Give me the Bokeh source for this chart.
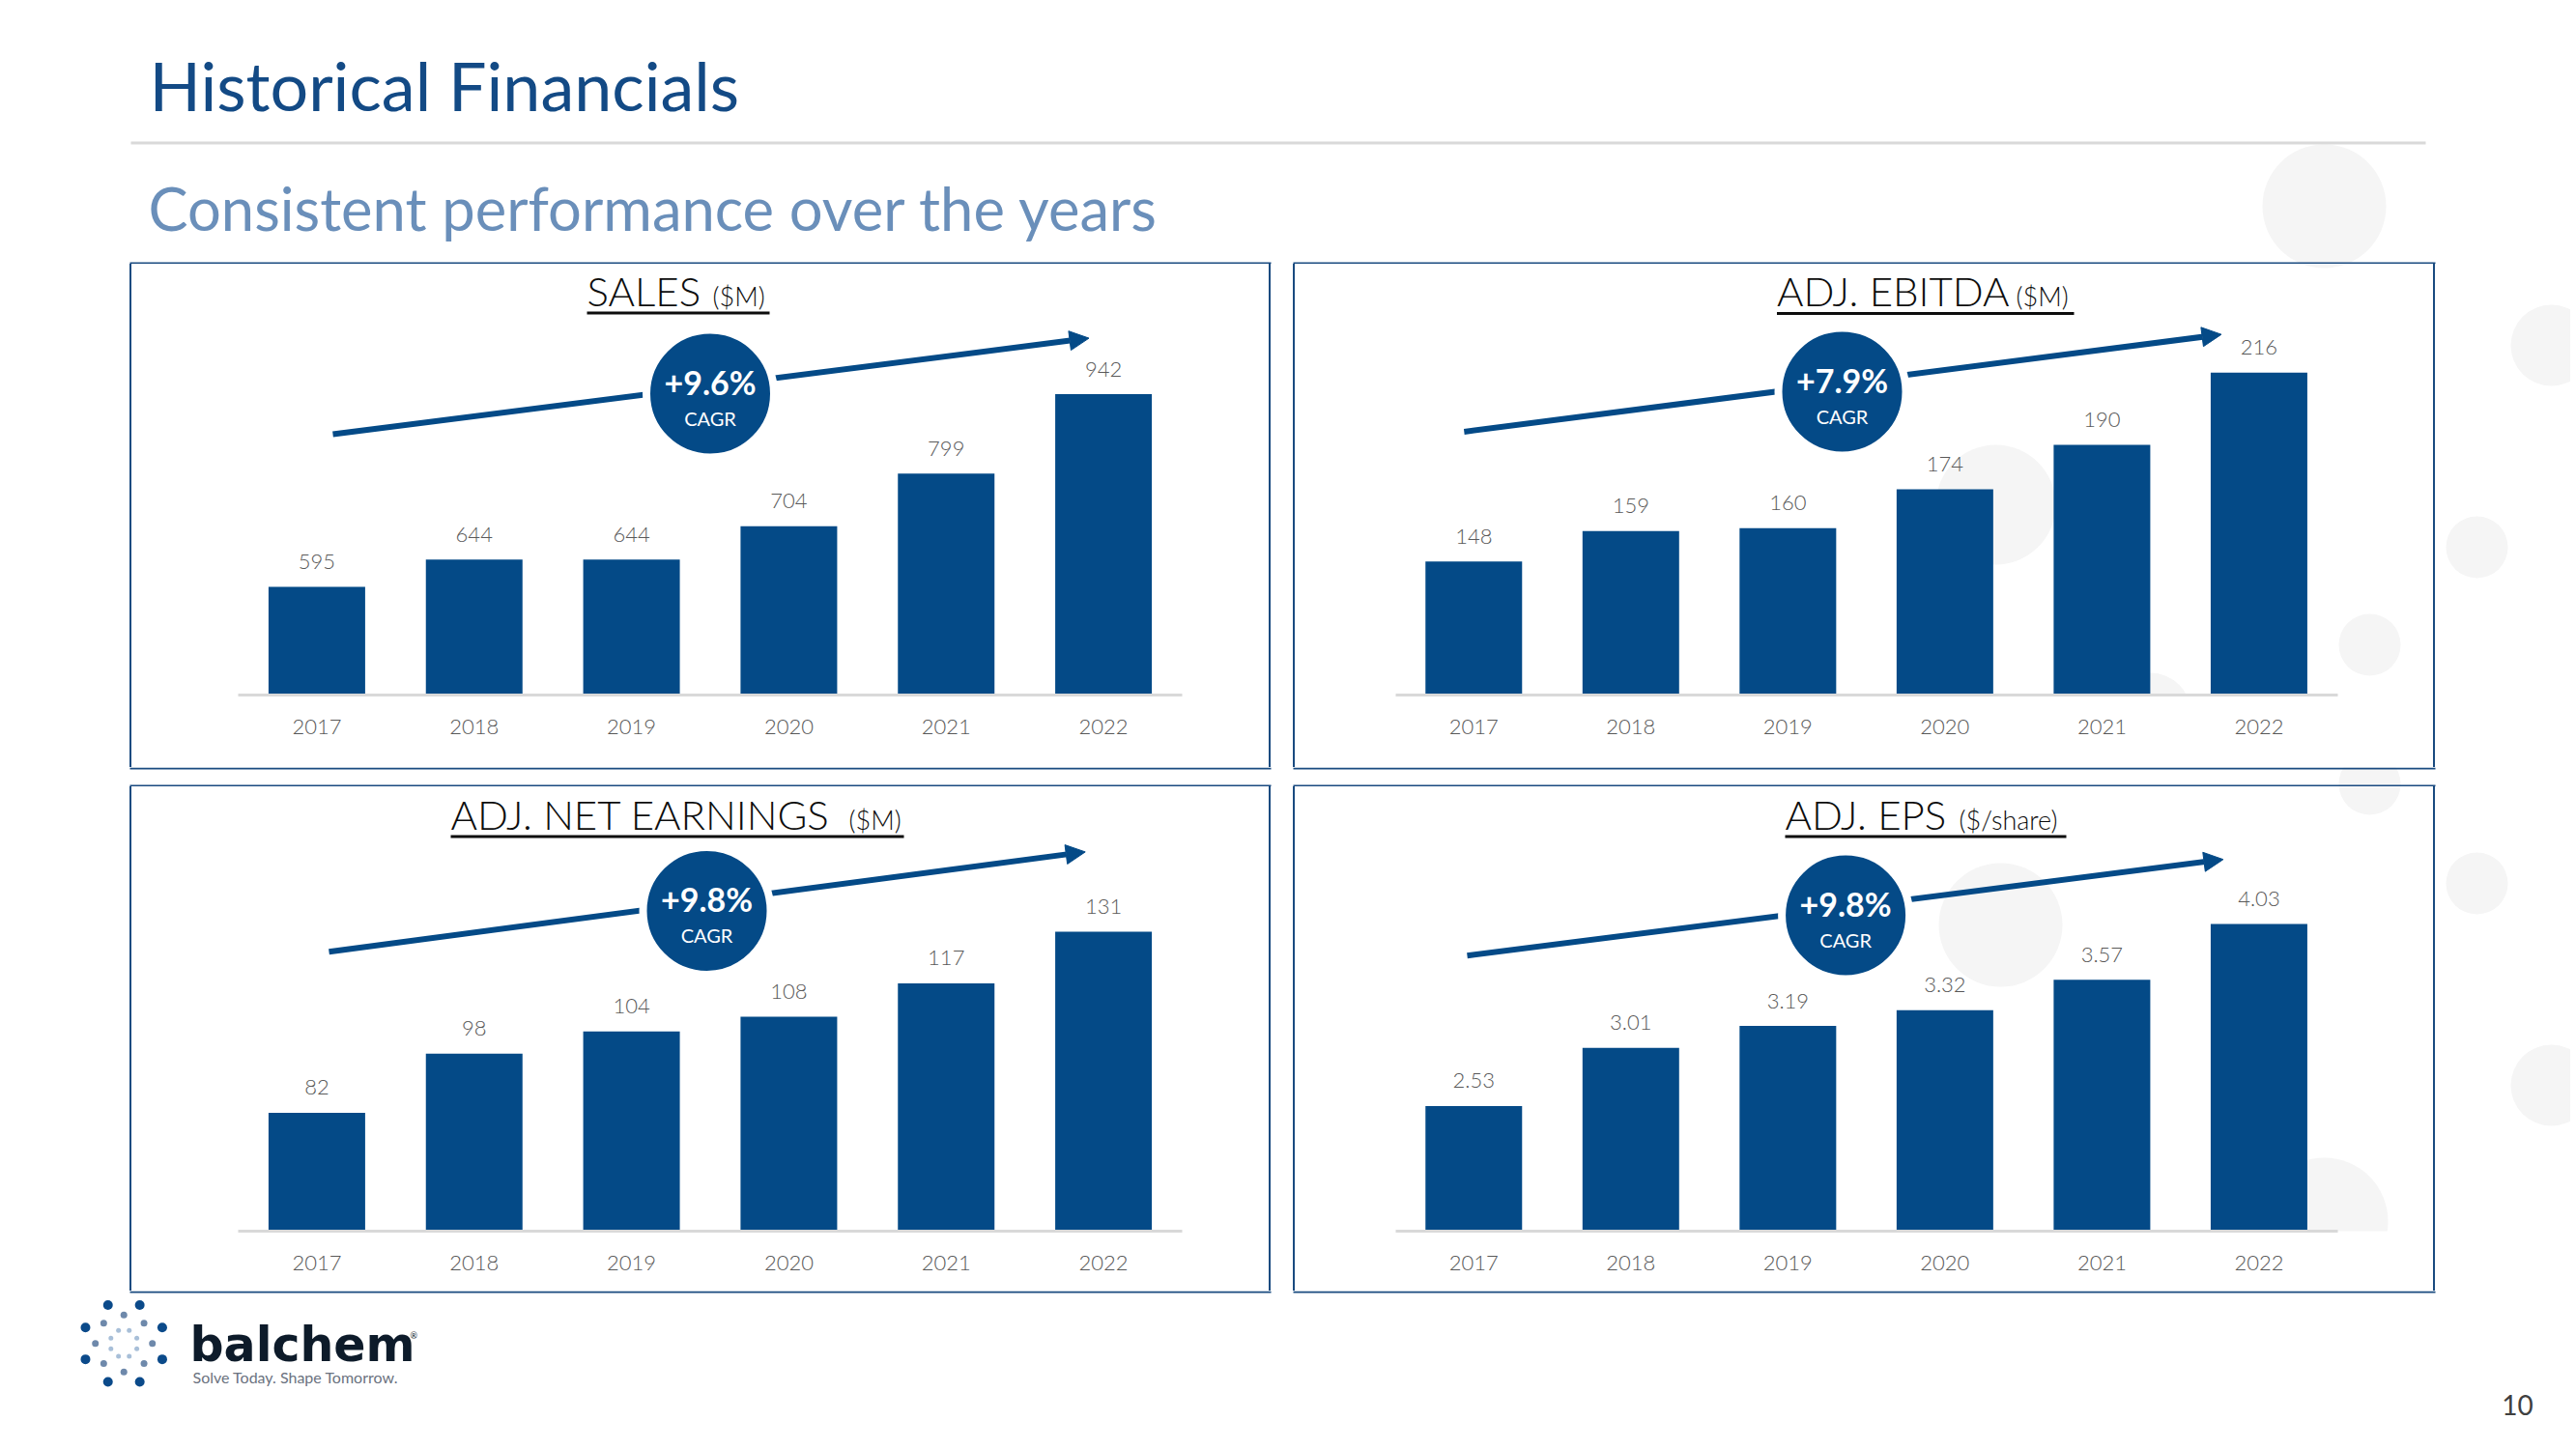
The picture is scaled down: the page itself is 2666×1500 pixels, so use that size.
import numpy as np
from bokeh.plotting import figure
from bokeh.models import Range1d, FixedTicker, Arrow, NormalHead, Div
from bokeh.layouts import row, column
from bokeh.core.properties import value
from bokeh.embed import file_html
from bokeh.resources import INLINE

# ---------------- data ----------------
years = ["2017", "2018", "2019", "2020", "2021", "2022"]
sales = [595, 644, 644, 704, 799, 942]
adj_ebitda = [148, 159, 160, 174, 190, 216]
adj_net_earnings = [82, 98, 104, 108, 117, 131]
adj_eps = [2.53, 3.01, 3.19, 3.32, 3.57, 4.03]

chart_titles = ["SALES", "ADJ. EBITDA", "ADJ. NET EARNINGS", "ADJ. EPS"]
chart_units = ["($M)", "($M)", "($M)", "($/share)"]
cagr_values = ["+9.6%", "+7.9%", "+9.8%", "+9.8%"]
axis_starts = [400, 100, 50, 1.5]
label_formats = ["{:.0f}", "{:.0f}", "{:.0f}", "{:.2f}"]

page_title = "Historical Financials"
page_subtitle = "Consistent performance over the years"
page_number = "10"
logo_name = "balchem"
logo_tagline = "Solve Today. Shape Tomorrow."

# ---------------- style / layout ----------------
BLUE = "#044A87"
TITLE_BLUE = "#134A85"
SUB_BLUE = "#6A8FBA"
BORDER = "#1A4B80"
GREY_TXT = "#595959"
DECO = "#F5F5F5"
LIGHT_NAME = "Lato Light, Lato"
LIGHT = value(LIGHT_NAME)
LATO = value("Lato")
BW = 2  # panel border width

# decorative background circles (screen px: cx, cy, r)
deco_circles = [(2405, 213, 64), (2640, 357, 42), (2563, 566, 32), (2452, 667, 32),
                (2452, 811, 32), (2563, 914, 32), (2640, 1123, 42), (2405, 1264, 66),
                (2065, 522, 62), (2225, 738, 42), (2070, 957, 64)]

# geometry of each panel (screen px): outer box, axis extent, baseline, value units per px
panels = [
    dict(box=(134, 271, 1315, 796), axis=(246, 1223), base=719, upp=1.74,
         title=(607, 737, 796, 315.5), circ=(734.5, 407), arrow=(344, 449, 1126.5, 349.6)),
    dict(box=(1338, 271, 2520, 796), axis=(1443.5, 2418.7), base=719, upp=0.3475,
         title=(1838.5, 2086, 2146, 316), circ=(1906, 405), arrow=(1514.8, 446.4, 2298.5, 345.7)),
    dict(box=(134, 812, 1315, 1338), axis=(246, 1223), base=1274, upp=0.2612,
         title=(466, 878, 935, 857.5), circ=(731, 942.4), arrow=(340, 984.7, 1122.7, 881.4)),
    dict(box=(1338, 812, 2520, 1338), axis=(1443.5, 2418.7), base=1274, upp=0.007953,
         title=(1847, 2027, 2138, 857.5), circ=(1909.6, 947), arrow=(1518, 988.8, 2300.4, 889.2)),
]
series = [sales, adj_ebitda, adj_net_earnings, adj_eps]


def mid_y(baseline, size):
    # vertical centre of capitals for a given alphabetic baseline and font size
    return baseline - 0.36 * size


def bg_fig(x0, y0, x1, y1, base=None):
    # plain strip in page coordinates; if base is given, its frame ends at base
    # (same bottom border as the neighbouring chart panels)
    yb = y1 if base is None else base
    p = figure(width=x1 - x0, height=y1 - y0, x_range=Range1d(x0, x1), y_range=Range1d(yb, y0),
               x_axis_type=None, y_axis_type=None, toolbar_location=None,
               output_backend="svg", min_border=0, min_border_bottom=y1 - yb,
               outline_line_color=None,
               background_fill_color="white", border_fill_color="white")
    p.scatter(x=[c[0] for c in deco_circles], y=[c[1] for c in deco_circles],
              size=[2 * c[2] for c in deco_circles], marker="circle",
              fill_color=DECO, line_color=None)
    # horizontal panel borders (the parts that fall in this strip)
    L, R, T, B = [], [], [], []
    for g in panels:
        bx0, by0, bx1, by1 = g["box"]
        for t, b in [(by0, by0 + BW), (by1 - BW, by1)]:
            L.append(bx0); R.append(bx1); T.append(t); B.append(b)
    p.quad(left=L, right=R, top=T, bottom=B, fill_color=BORDER, line_color=None)
    return p


def vline(h):
    return Div(text="", width=BW, height=h, margin=0,
               styles={"background-color": BORDER, "margin": "0", "padding": "0"})


def panel_fig(i):
    g = panels[i]
    vals = series[i]
    bx0, by0, bx1, by1 = g["box"]
    cx0, cy0, cx1, cy1 = bx0 + BW, by0 + BW, bx1 - BW, by1 - BW
    al, ar = g["axis"]
    base, upp = g["base"], g["upp"]
    n = len(years)
    cat_w = (ar - al) / n
    y0 = axis_starts[i]

    def xd(X):
        return 0.5 + (X - al) / cat_w

    def yd(Y):
        return y0 + (base - Y) * upp

    p = figure(width=cx1 - cx0, height=cy1 - cy0,
               x_range=Range1d(xd(cx0), xd(cx1)), y_range=Range1d(y0, yd(cy0)),
               y_axis_type=None, toolbar_location=None, output_backend="svg",
               min_border_left=0, min_border_right=0, min_border_top=0,
               min_border_bottom=cy1 - base, outline_line_color=None,
               background_fill_color="white", border_fill_color="white")
    p.grid.visible = False

    # faint background circles
    p.scatter(x=[xd(c[0]) for c in deco_circles], y=[yd(c[1]) for c in deco_circles],
              size=[2 * c[2] for c in deco_circles], marker="circle",
              fill_color=DECO, line_color=None)

    xs = [k + 1 for k in range(n)]
    p.vbar(x=xs, top=vals, bottom=y0, width=100 / cat_w, fill_color=BLUE, line_color=None)
    p.text(x=xs, y=vals, text=[label_formats[i].format(v) for v in vals], y_offset=-26,
           text_align="center", text_baseline="middle", text_font=LIGHT,
           text_font_size="22px", text_color=GREY_TXT)

    ax = p.xaxis[0]
    ax.ticker = FixedTicker(ticks=xs)
    ax.major_label_overrides = {x: y for x, y in zip(xs, years)}
    ax.bounds = (0.5, n + 0.5)
    ax.axis_line_color = "#D9D9D9"
    ax.axis_line_width = 3
    ax.major_tick_line_color = None
    ax.minor_tick_line_color = None
    ax.major_label_standoff = 19
    ax.major_label_text_font = LIGHT_NAME
    ax.major_label_text_font_size = "22px"
    ax.major_label_text_color = GREY_TXT

    # title with unit and underline
    tx0, tx1, tx2, tb = g["title"]
    p.text(x=[xd(tx0)], y=[yd(mid_y(tb, 42))], text=[chart_titles[i]], text_align="left",
           text_baseline="middle", text_font=LIGHT, text_font_size="42px",
           text_color="#0D0D0D")
    p.text(x=[xd(tx1)], y=[yd(mid_y(tb, 27))], text=[chart_units[i]], text_align="left",
           text_baseline="middle", text_font=LIGHT, text_font_size="27px",
           text_color="#0D0D0D")
    p.segment(x0=[xd(tx0)], y0=[yd(tb + 8)], x1=[xd(tx2)], y1=[yd(tb + 8)],
              line_color="#0D0D0D", line_width=3)

    # growth arrow
    sx, sy, ex, ey = g["arrow"]
    p.add_layout(Arrow(x_start=xd(sx), y_start=yd(sy), x_end=xd(ex), y_end=yd(ey),
                       line_color=BLUE, line_width=6,
                       end=NormalHead(size=20, fill_color=BLUE, line_color=BLUE)))

    # CAGR badge
    cx, cy = g["circ"]
    p.scatter(x=[xd(cx)], y=[yd(cy)], size=132, marker="circle", fill_color=BLUE,
              line_color="white", line_width=8, level="overlay")
    p.text(x=[xd(cx)], y=[yd(cy - 12.5)], text=[cagr_values[i]], text_align="center",
           text_baseline="middle", text_font=LATO, text_font_style="bold",
           text_font_size="34px", text_color="white", level="overlay")
    p.text(x=[xd(cx)], y=[yd(cy + 25)], text=["CAGR"], text_align="center",
           text_baseline="middle", text_font=LATO, text_font_size="20px",
           text_color="white", level="overlay")
    return p


# header
hdr = bg_fig(0, 0, 2660, 273)
hdr.text(x=[154], y=[mid_y(113, 70)], text=[page_title], text_font=LATO, text_font_size="70px",
         text_color=TITLE_BLUE, text_baseline="middle")
hdr.segment(x0=[135], y0=[147.5], x1=[2510], y1=[147.5], line_color="#D9D9D9", line_width=3)
hdr.text(x=[153], y=[mid_y(237, 61.5)], text=[page_subtitle], text_font=LATO,
         text_font_size="61.5px", text_color=SUB_BLUE, text_baseline="middle")

t0, t1 = 273, 794
row1 = row(bg_fig(0, t0, 134, t1, base=719), vline(t1 - t0), panel_fig(0), vline(t1 - t0),
           bg_fig(1315, t0, 1338, t1, base=719), vline(t1 - t0), panel_fig(1), vline(t1 - t0),
           bg_fig(2520, t0, 2660, t1, base=719))
mid = bg_fig(0, 794, 2660, 814)
b0, b1 = 814, 1336
row2 = row(bg_fig(0, b0, 134, b1, base=1274), vline(b1 - b0), panel_fig(2), vline(b1 - b0),
           bg_fig(1315, b0, 1338, b1, base=1274), vline(b1 - b0), panel_fig(3), vline(b1 - b0),
           bg_fig(2520, b0, 2660, b1, base=1274))

# footer with logo and page number
ftr = bg_fig(0, 1336, 2660, 1496)
lcx, lcy = 127.7, 1390.2
for rad, start, size, col in [(43, 22.5, 10, "#0B4A8A"), (29.5, 0.0, 7, "#6E89AB"),
                              (14.5, 22.5, 5, "#A8BFD8")]:
    ang = np.deg2rad(start + 45 * np.arange(8))
    ftr.scatter(x=lcx + rad * np.cos(ang), y=lcy - rad * np.sin(ang), size=size,
                marker="circle", fill_color=col, line_color=None)
ftr.text(x=[196], y=[mid_y(1410, 49)], text=[logo_name], text_font=value("DejaVu Sans"),
         text_font_style="bold", text_font_size="49px", text_color="#0D1B2A",
         text_baseline="middle")
ftr.text(x=[424], y=[1382], text=["®"], text_font=LATO, text_font_size="9px",
         text_color="#0D1B2A", text_baseline="middle")
ftr.text(x=[199], y=[mid_y(1431, 16)], text=[logo_tagline], text_font=LATO, text_font_size="16px",
         text_color="#6B7280", text_baseline="middle")
ftr.text(x=[2605], y=[mid_y(1464, 28)], text=[page_number], text_font=LATO, text_font_size="28px",
         text_color="#404040", text_align="center", text_baseline="middle")

page = column(hdr, row1, mid, row2, ftr)
open("out.html", "w").write(file_html(page, INLINE))
